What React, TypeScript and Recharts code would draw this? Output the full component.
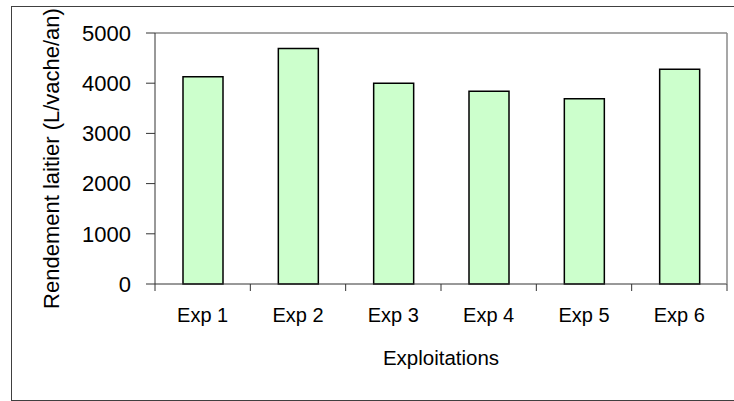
import { BarChart, Bar, XAxis, YAxis, ReferenceLine, Label } from 'recharts'

const exploitations = ['Exp 1', 'Exp 2', 'Exp 3', 'Exp 4', 'Exp 5', 'Exp 6']
const rendement = [4130, 4690, 4000, 3840, 3690, 4280]
const yTicks = [0, 1000, 2000, 3000, 4000, 5000]

const data = exploitations.map((name, i) => ({ name, rendement: rendement[i] }))

const FONT = '"Liberation Sans", Arial, sans-serif'
const TICK_LEN = 7
const TICK_GAP = 17
const AXIS = '#333'
const FRAME = '#8a8a8a'

// category label centred in its band, tick marks on the band edges
function ExpTick(props: any) {
  const { x, y, payload, index } = props
  const half = payload?.offset ?? 0
  const axisY = y - TICK_LEN - TICK_GAP
  const last = index === exploitations.length - 1
  return (
    <g>
      <line x1={x - half} x2={x - half} y1={axisY} y2={axisY + TICK_LEN} stroke={AXIS} />
      {last && <line x1={x + half} x2={x + half} y1={axisY} y2={axisY + TICK_LEN} stroke={AXIS} />}
      <text x={x} y={y} dy="0.71em" textAnchor="middle" fontSize={20} fontFamily={FONT} fill="#000">
        {payload.value}
      </text>
    </g>
  )
}

export default function App() {
  return (
    <div
      style={{
        position: 'absolute',
        left: 0,
        top: 0,
        width: 734,
        height: 401,
        background: '#fff',
        overflow: 'hidden',
      }}
    >
      {/* outer chart frame, open on the right where the page ends */}
      <div
        style={{
          position: 'absolute',
          left: 11,
          top: 6,
          width: 730,
          height: 393,
          borderTop: '1px solid #404040',
          borderLeft: '1px solid #404040',
          borderBottom: '1px solid #404040',
        }}
      />
      <BarChart
        width={734}
        height={401}
        data={data}
        margin={{ top: 33, right: 6, left: 0, bottom: 0 }}
        barSize={40}
        style={{ position: 'absolute', left: 0, top: 0, fontFamily: FONT }}
      >
        <XAxis
          dataKey="name"
          height={117}
          tickSize={TICK_LEN}
          tickMargin={TICK_GAP}
          tickLine={false}
          axisLine={{ stroke: AXIS }}
          tick={<ExpTick />}
          interval={0}
        >
          <Label
            value="Exploitations"
            position="insideBottom"
            offset={36}
            style={{ fontSize: 20.5, fill: '#000', fontFamily: FONT }}
          />
        </XAxis>
        <YAxis
          width={155}
          domain={[0, 5000]}
          ticks={yTicks}
          tickSize={9}
          tickMargin={15}
          axisLine={{ stroke: AXIS }}
          tickLine={{ stroke: AXIS }}
          tick={{ fontSize: 22, fill: '#000', fontFamily: FONT }}
        >
          <Label
            value="Rendement laitier (L/vache/an)"
            angle={-90}
            position="insideLeft"
            offset={51}
            style={{ textAnchor: 'middle', fontSize: 22, fill: '#000', fontFamily: FONT }}
          />
        </YAxis>
        <YAxis
          yAxisId="frame"
          orientation="right"
          width={1}
          tick={false}
          tickLine={false}
          axisLine={{ stroke: FRAME, strokeWidth: 1.5 }}
        />
        <ReferenceLine y={5000} stroke={FRAME} strokeWidth={1.5} />
        <Bar
          dataKey="rendement"
          fill="#ccffcc"
          stroke="#000"
          strokeWidth={1.5}
          isAnimationActive={false}
        />
      </BarChart>
    </div>
  )
}
